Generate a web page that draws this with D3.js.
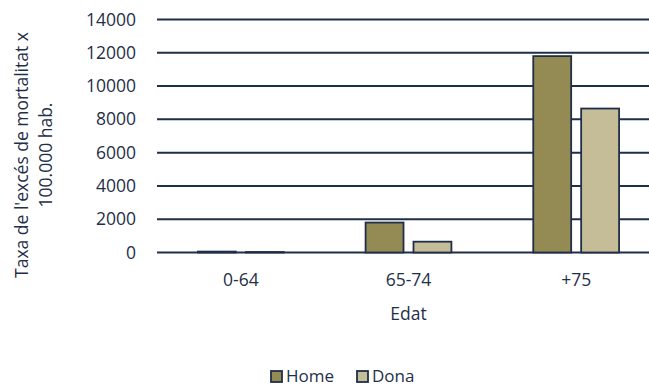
<!DOCTYPE html>
<html>
<head>
<meta charset="utf-8">
<script src="https://cdn.jsdelivr.net/npm/d3@7"></script>
<style>
  html, body { margin: 0; padding: 0; background: #fff; }
  #chart { width: 649px; height: 387px; overflow: hidden; }
  text { font-family: "Open Sans", sans-serif; fill: #1f2f48; }
</style>
</head>
<body>
<div id="chart"></div>
<script>
// Data
const categories = ['0-64', '65-74', '+75'];
const seriesNames = ['Home', 'Dona'];
const homeValues = [55, 1800, 11800];
const donaValues = [30, 650, 8650];
const yTicks = [0, 2000, 4000, 6000, 8000, 10000, 12000, 14000];

const colors = { Home: '#948a54', Dona: '#c4bd97' };
const ink = '#1f2f48';

const W = 649, H = 387;
const plot = { left: 157, right: 660, top: 19.5, bottom: 252.5 };

const svg = d3.select('#chart').append('svg')
    .attr('width', W)
    .attr('height', H);

// Scales
const x0 = d3.scaleBand()
    .domain(categories)
    .range([plot.left, plot.right])
    .paddingInner(82 / 168)
    .paddingOuter(41 / 168);

const x1 = d3.scaleBand()
    .domain(seriesNames)
    .range([0, x0.bandwidth()])
    .paddingInner(0.2083);

const y = d3.scaleLinear()
    .domain([0, 14000])
    .range([plot.bottom, plot.top]);

// Gridlines
svg.append('g')
    .selectAll('line')
    .data(yTicks)
    .join('line')
    .attr('x1', plot.left)
    .attr('x2', plot.right)
    .attr('y1', d => y(d))
    .attr('y2', d => y(d))
    .attr('stroke', ink)
    .attr('stroke-width', 2);

// Y tick labels
svg.append('g')
    .selectAll('text')
    .data(yTicks)
    .join('text')
    .attr('x', 136)
    .attr('y', d => y(d))
    .attr('dy', '0.35em')
    .attr('text-anchor', 'end')
    .style('font-size', '17.5px')
    .text(d => d);

// Bars
const rows = categories.map((c, i) => ({ cat: c, Home: homeValues[i], Dona: donaValues[i] }));

svg.append('g')
    .selectAll('g')
    .data(rows)
    .join('g')
    .attr('transform', d => `translate(${x0(d.cat)},0)`)
    .selectAll('rect')
    .data(d => seriesNames.map(s => ({ key: s, value: d[s] })))
    .join('rect')
    .attr('x', d => x1(d.key))
    .attr('y', d => y(d.value))
    .attr('width', x1.bandwidth())
    .attr('height', d => y(0) - y(d.value))
    .attr('fill', d => colors[d.key])
    .attr('stroke', ink)
    .attr('stroke-width', 1.8);

// X tick labels
svg.append('g')
    .selectAll('text')
    .data(categories)
    .join('text')
    .attr('x', d => x0(d) + x0.bandwidth() / 2)
    .attr('y', 286)
    .attr('text-anchor', 'middle')
    .style('font-size', '17.5px')
    .text(d => d);

// Axis titles
svg.append('text')
    .attr('x', (plot.left + plot.right) / 2)
    .attr('y', 320)
    .attr('text-anchor', 'middle')
    .style('font-size', '17.5px')
    .text('Edat');

const yTitle = svg.append('text')
    .attr('transform', 'translate(0,155) rotate(-90)')
    .attr('text-anchor', 'middle')
    .style('font-size', '17.5px');
yTitle.append('tspan').attr('x', 0).attr('y', 28).text("Taxa de l'excés de mortalitat x");
yTitle.append('tspan').attr('x', 0).attr('y', 52).text('100.000 hab.');

// Legend
const legend = svg.append('g');
const legendItems = [{ name: 'Home', x: 270 }, { name: 'Dona', x: 356 }];
legendItems.forEach(item => {
    legend.append('rect')
        .attr('x', item.x + 1)
        .attr('y', 371)
        .attr('width', 11)
        .attr('height', 11)
        .attr('fill', colors[item.name])
        .attr('stroke', ink)
        .attr('stroke-width', 1.8);
    legend.append('text')
        .attr('x', item.x + 16)
        .attr('y', 382)
        .style('font-size', '17px')
        .text(item.name);
});
</script>
</body>
</html>
